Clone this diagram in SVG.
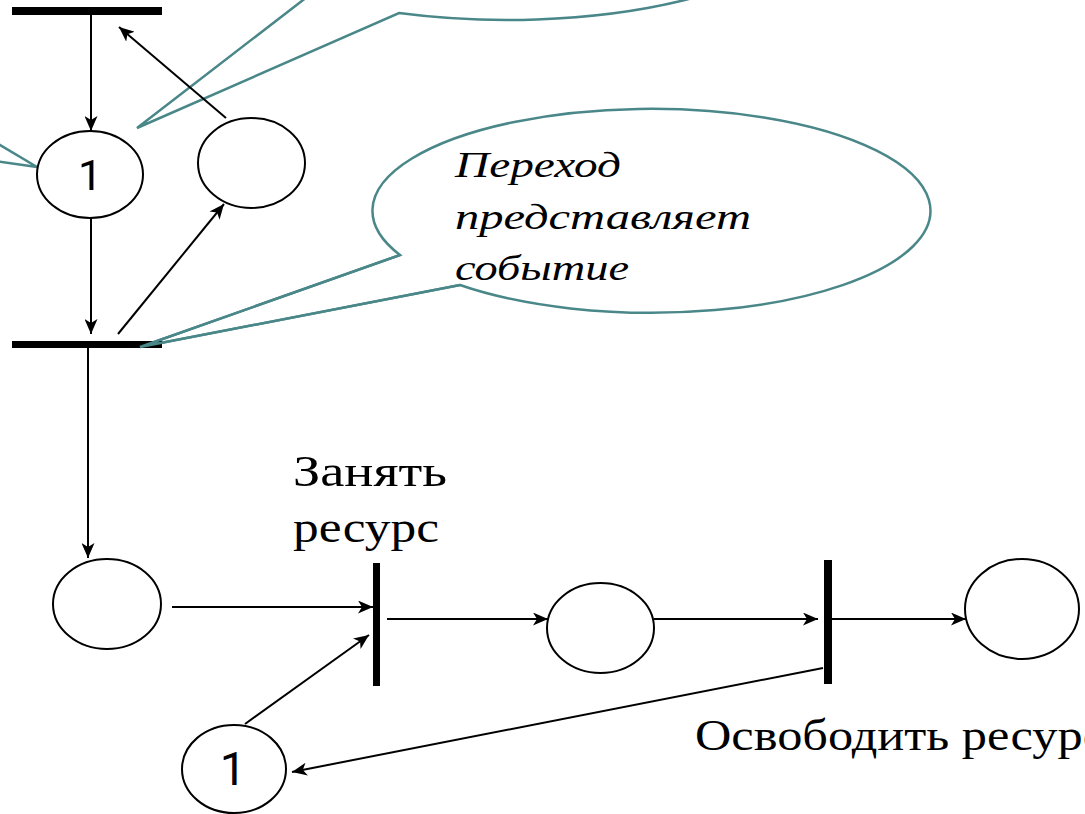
<svg xmlns="http://www.w3.org/2000/svg" width="1085" height="814" viewBox="0 0 1085 814">
<style>
.callout{fill:#ffffff;stroke:#4a8789;stroke-width:2.5;stroke-linejoin:miter}
.tailline{fill:none;stroke:#4a8789;stroke-width:2.5}
.place{fill:#ffffff;stroke:#000;stroke-width:2}
.bar{fill:#000}
.arc{fill:none;stroke:#000;stroke-width:2}
.tok{fill:#000;text-anchor:middle;font-family:Roboto,'Liberation Sans',Arial,sans-serif}
.lbl{fill:#000;font-size:44px;font-family:'Liberation Serif','Times New Roman','DejaVu Serif',serif}
.it{font-style:italic;fill:#000;font-size:36px;font-family:'Liberation Serif','Times New Roman','DejaVu Serif',serif}
</style>
<defs>
<marker id="ah" markerUnits="userSpaceOnUse" markerWidth="16" markerHeight="13" refX="15" refY="6.5" orient="auto">
<path d="M0,0 L15,6.5 L0,13 L4,6.5 Z" fill="#000"/>
</marker>
</defs>
<rect width="1085" height="814" fill="#ffffff"/>

<g id="callout-top">
<path class="callout" d="M 355,-40 L 137,128 L 399,13 A 310 110 0 0 0 817,-90 Z"/>
</g>
<g id="callout-left">
<path class="callout" d="M -20,133 L 37,167 L -20,159 Z"/>
</g>
<g id="callout-event">
<path class="callout" d="M 400,255 L 140,347 L 460,285 A 279 102 0 1 0 400,255 Z"/>
<text class="it" x="455" y="177" textLength="166" lengthAdjust="spacingAndGlyphs">Переход</text>
<text class="it" x="455" y="229" textLength="296" lengthAdjust="spacingAndGlyphs">представляет</text>
<text class="it" x="455" y="280" textLength="174" lengthAdjust="spacingAndGlyphs">событие</text>
</g>

<g id="connectors">
<line class="arc" x1="91" y1="15" x2="91" y2="131" marker-end="url(#ah)"/>
<line class="arc" x1="91" y1="218" x2="91" y2="334" marker-end="url(#ah)"/>
<line class="arc" x1="118" y1="334" x2="224" y2="204" marker-end="url(#ah)"/>
<line class="arc" x1="226" y1="118" x2="119" y2="27" marker-end="url(#ah)"/>
<line class="arc" x1="88" y1="348" x2="88" y2="558" marker-end="url(#ah)"/>
<line class="arc" x1="172" y1="607" x2="373" y2="607" marker-end="url(#ah)"/>
<line class="arc" x1="387" y1="619" x2="548" y2="619" marker-end="url(#ah)"/>
<line class="arc" x1="654" y1="619" x2="818" y2="619" marker-end="url(#ah)"/>
<line class="arc" x1="832" y1="619" x2="966" y2="619" marker-end="url(#ah)"/>
<line class="arc" x1="245" y1="724" x2="369" y2="635" marker-end="url(#ah)"/>
<line class="arc" x1="823" y1="668" x2="292" y2="772" marker-end="url(#ah)"/>
</g>

<g id="t-top"><rect class="bar" x="12" y="7" width="150" height="8"/></g>
<g id="t-event"><rect class="bar" x="12" y="341" width="150" height="7"/></g>
<g id="p-marked"><ellipse class="place" cx="90" cy="174.5" rx="53" ry="43.5"/><text class="tok" x="90" y="190" font-size="43">1</text></g>
<g id="p-right"><ellipse class="place" cx="251.5" cy="163" rx="53.5" ry="45"/></g>
<g id="p-start"><ellipse class="place" cx="107" cy="604" rx="54" ry="45"/></g>
<g id="t-take"><rect class="bar" x="373" y="563" width="7" height="123"/>
<text class="lbl" x="293" y="486" textLength="154" lengthAdjust="spacingAndGlyphs">Занять</text>
<text class="lbl" x="293" y="542" textLength="146" lengthAdjust="spacingAndGlyphs">ресурс</text></g>
<g id="p-busy"><ellipse class="place" cx="600.5" cy="628" rx="53.5" ry="45"/></g>
<g id="t-release"><rect class="bar" x="824" y="560" width="8" height="124"/>
<text class="lbl" x="695" y="750" textLength="410" lengthAdjust="spacingAndGlyphs">Освободить ресурс</text></g>
<g id="p-end"><ellipse class="place" cx="1022" cy="609" rx="57" ry="50"/></g>
<g id="p-resource"><ellipse class="place" cx="234" cy="769" rx="52" ry="44"/><text class="tok" x="233" y="785" font-size="47">1</text></g>

<g id="callout-event-tip"><polyline class="tailline" points="400,255 140,347 460,285"/></g>
</svg>
